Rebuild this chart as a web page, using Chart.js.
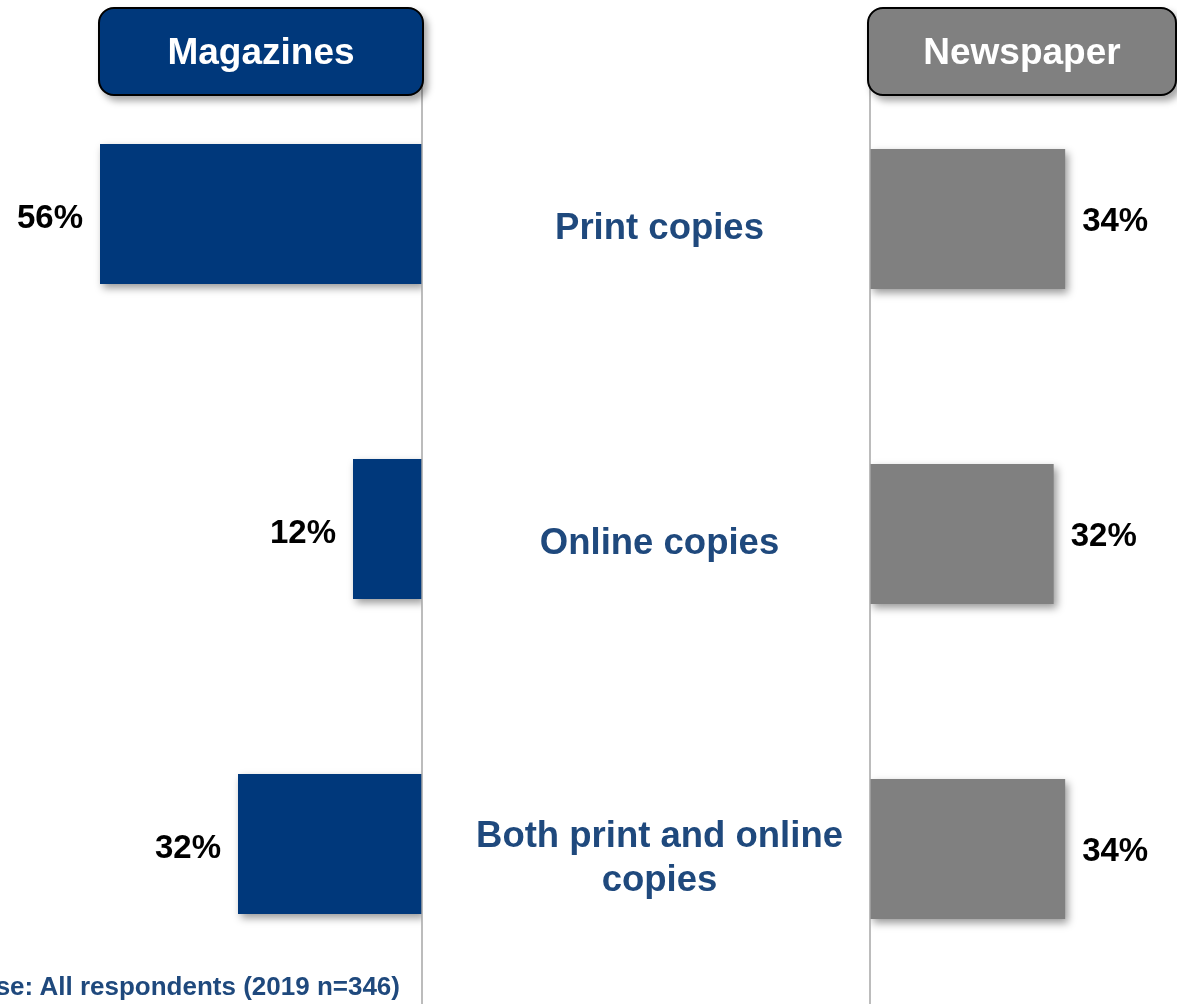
<!DOCTYPE html>
<html>
<head>
<meta charset="utf-8">
<script src="https://cdn.jsdelivr.net/npm/chart.js@4"></script>
<style>
  html, body { margin: 0; padding: 0; }
  body {
    width: 1177px; height: 1004px; overflow: hidden; position: relative;
    background: #fff; font-family: "Liberation Sans", Arial, sans-serif;
  }
  canvas { position: absolute; top: 0; }
  #magChart { left: 0; }
  #newsChart { left: 440px; }
  .head {
    position: absolute; top: 7px; height: 89px; box-sizing: border-box;
    border: 2px solid #000; border-radius: 16px;
    box-shadow: 4px 5px 7px rgba(0, 0, 0, 0.35);
    color: #fff; font-weight: bold; font-size: 37px;
    display: flex; align-items: center; justify-content: center;
    z-index: 2;
  }
  #headMag { left: 98px; width: 326px; background: #00387b; }
  #headNews { left: 867px; width: 310px; background: #808080; }
  #base {
    position: absolute; right: 777px; top: 973px; white-space: nowrap;
    font-size: 26px; line-height: 26px; font-weight: bold; color: #1f497d;
  }
</style>
</head>
<body>
<div class="head" id="headMag">Magazines</div>
<div class="head" id="headNews">Newspaper</div>
<canvas id="magChart" width="440" height="1004"></canvas>
<canvas id="newsChart" width="737" height="1010"></canvas>
<div id="base">Base: All respondents (2019 n=346)</div>

<script>
const categories = ['Print copies', 'Online copies', ['Both print and online', 'copies']];
const magazines = [56, 12, 32];
const newspaper = [34, 32, 34];

const magBlue = '#00387b';
const newsGrey = '#808080';
const labelBlue = '#1f497d';
const fontFamily = '"Liberation Sans", Arial, sans-serif';

// soft drop shadow under the bars
const barShadow = {
  id: 'barShadow',
  beforeDatasetsDraw(chart) {
    const c = chart.ctx;
    c.save();
    c.shadowColor = 'rgba(0,0,0,0.4)';
    c.shadowBlur = 8;
    c.shadowOffsetX = 3;
    c.shadowOffsetY = 4;
  },
  afterDatasetsDraw(chart) {
    chart.ctx.restore();
  }
};

// vertical zero line + percentage labels next to each bar
function valueLabels(side, dy) {
  return {
    id: 'valueLabels',
    afterDatasetsDraw(chart) {
      const c = chart.ctx;
      const x0 = chart.scales.x.getPixelForValue(0);
      c.save();
      c.strokeStyle = '#a6a6a6';
      c.lineWidth = 1.5;
      c.beginPath();
      c.moveTo(x0, chart.chartArea.top);
      c.lineTo(x0, chart.height);
      c.stroke();

      c.font = 'bold 33px ' + fontFamily;
      c.fillStyle = '#000';
      c.textBaseline = 'middle';
      const ds = chart.data.datasets[0];
      chart.getDatasetMeta(0).data.forEach((bar, i) => {
        const txt = ds.data[i] + '%';
        if (side === 'left') {
          c.textAlign = 'right';
          c.fillText(txt, bar.x - 17, bar.y + dy);
        } else {
          c.textAlign = 'left';
          c.fillText(txt, bar.x + 17, bar.y + dy);
        }
      });
      c.restore();
    }
  };
}

Chart.defaults.font.family = fontFamily;

new Chart(document.getElementById('magChart'), {
  type: 'bar',
  data: {
    labels: categories,
    datasets: [{
      data: magazines,
      backgroundColor: magBlue,
      barPercentage: 0.444,
      categoryPercentage: 1
    }]
  },
  options: {
    indexAxis: 'y',
    responsive: false,
    animation: false,
    devicePixelRatio: 1,
    layout: { padding: { left: 19.5, right: 18, top: 56.5, bottom: 2.5 } },
    scales: {
      x: { display: false, reverse: true, min: 0, max: 70 },
      y: { display: false }
    },
    plugins: { legend: { display: false }, tooltip: { enabled: false } }
  },
  plugins: [barShadow, valueLabels('left', 5)]
});

new Chart(document.getElementById('newsChart'), {
  type: 'bar',
  data: {
    labels: categories,
    datasets: [{
      data: newspaper,
      backgroundColor: newsGrey,
      barPercentage: 0.444,
      categoryPercentage: 1
    }]
  },
  options: {
    indexAxis: 'y',
    responsive: false,
    animation: false,
    devicePixelRatio: 1,
    layout: { padding: { left: 0, right: 20, top: 61.5, bottom: 3.5 } },
    scales: {
      x: { display: false, min: 0, max: 50 },
      y: {
        position: 'left',
        grid: { display: false, drawTicks: false },
        border: { display: false },
        afterFit(scale) {
          scale.width = 430;
          scale.paddingTop = 0;
          scale.paddingBottom = 0;
        },
        ticks: {
          crossAlign: 'center',
          padding: 27,
          labelOffset: 10,
          color: labelBlue,
          font: { size: 36.5, weight: 'bold', lineHeight: 1.2 }
        }
      }
    },
    plugins: { legend: { display: false }, tooltip: { enabled: false } }
  },
  plugins: [barShadow, valueLabels('right', 3)]
});
</script>
</body>
</html>
